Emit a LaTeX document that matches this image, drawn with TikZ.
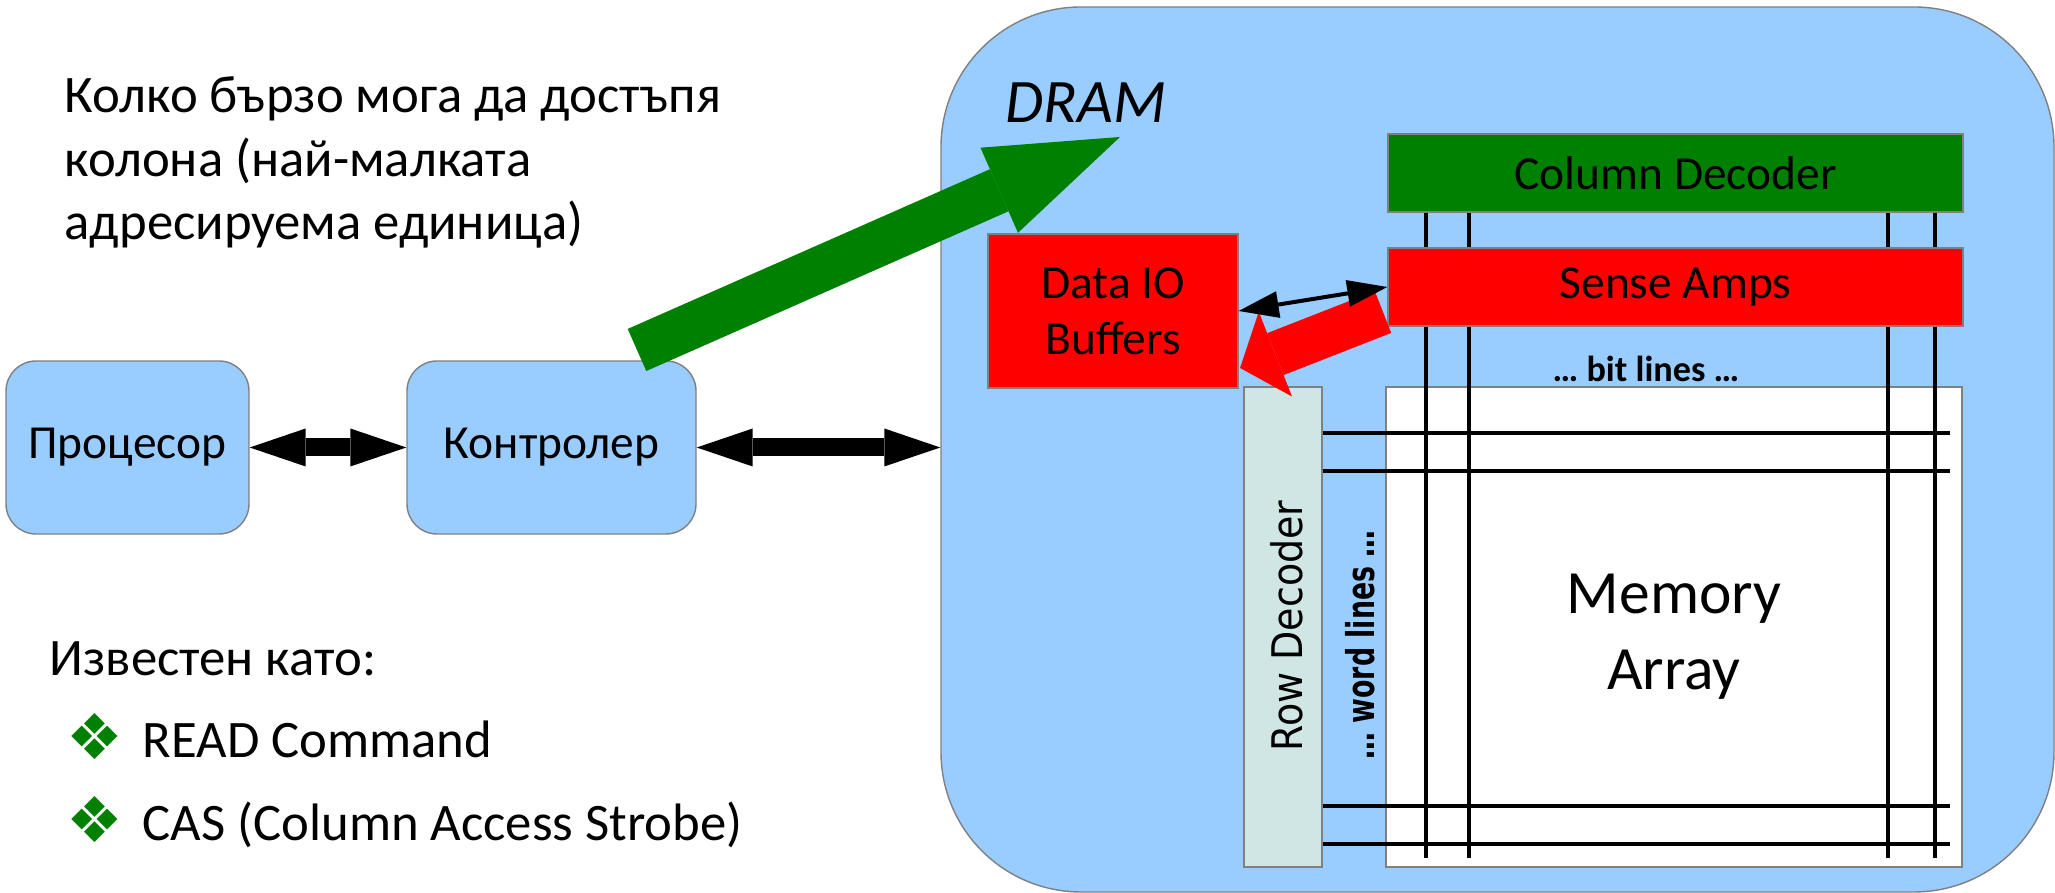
\documentclass[tikz,border=0pt]{standalone}
\usepackage{fontspec}
\setmainfont{Carlito}
\newfontfamily\symfont{DejaVu Sans}
\newfontfamily\rowfont[FakeStretch=0.9]{DejaVu Sans}
\newfontfamily\wordfont[FakeStretch=0.7]{DejaVu Sans}
\usepackage{tikz}
\usetikzlibrary{arrows.meta}
\definecolor{dramblue}{RGB}{153,204,255}
\definecolor{decgreen}{RGB}{0,128,0}
\definecolor{rowgray}{RGB}{208,230,228}
\definecolor{edgegray}{RGB}{128,128,128}

\begin{document}
\begin{tikzpicture}[
  every node/.style={inner sep=0pt},
  blockfont/.style={font=\fontsize{13.5}{15.9}\selectfont},
  bigfont/.style={font=\fontsize{15}{18}\selectfont},
  unit/.style={draw=edgegray, line width=0.4pt, fill=dramblue,
               rounded corners=0.3cm, minimum width=2.43cm,
               minimum height=1.73cm, blockfont},
  part/.style={draw=edgegray, line width=0.4pt, align=center, blockfont},
  bus/.style={line width=0.18cm,
              {Triangle[length=0.56cm, width=0.38cm, line width=0pt]}-{Triangle[length=0.56cm, width=0.38cm, line width=0pt]}},
  wire/.style={line width=1pt},
  bullet/.style={text=decgreen, font=\symfont\fontsize{18}{20}\selectfont},
]
\useasboundingbox (0,0) rectangle (20.55,8.93);

%% Question text
\node[bigfont, anchor=base west] (ask1) at (0.64, 7.80) {Колко бързо мога да достъпя};
\node[bigfont, anchor=base west] (ask2) at (0.64, 7.16) {колона (най-малката};
\node[bigfont, anchor=base west] (ask3) at (0.64, 6.53) {адресируема единица)};

%% Known as
\node[bigfont, anchor=base west] (known) at (0.49, 2.17) {Известен като:};
\node[bullet] (b1) at (0.95, 1.56) {❖};
\node[bigfont, anchor=base west] (item1) at (1.42, 1.35) {READ Command};
\node[bullet] (b2) at (0.95, 0.73) {❖};
\node[bigfont, anchor=base west] (item2) at (1.42, 0.52) {CAS (Column Access Strobe)};

%% Processor and controller
\node[unit] (cpu) at (1.275, 4.455) {Процесор};
\node[unit, minimum width=2.89cm] (ctrl) at (5.515, 4.455) {Контролер};
\draw[bus] (cpu.east) -- (ctrl.west);

%% DRAM chip
\node[draw=edgegray, line width=0.4pt, fill=dramblue, rounded corners=1.4cm,
      minimum width=11.13cm, minimum height=8.85cm] (dram) at (14.975, 4.435) {};
\draw[bus] (ctrl.east) -- (ctrl.east -| dram.west);
\node[anchor=base west, font=\itshape\fontsize{17.6}{21}\selectfont] (dramlbl) at (10.05, 7.70) {DRAM};

%% Command arrow
\coordinate (gtail) at (6.37, 5.43);
\coordinate (gtip) at (11.20, 7.56);
\draw[decgreen, line width=0.46cm,
      -{Triangle[length=1.32cm, width=0.93cm, line width=0pt]}] (gtail) -- (gtip);

%% Array and decoders
\node[part, fill=white, minimum width=5.76cm, minimum height=4.80cm] (mem) at (16.74, 2.66) {};
\node[font=\fontsize{17.5}{21.5}\selectfont, align=center] (memtxt) at (16.74, 2.56) {Memory\\Array};
\node[part, fill=rowgray, minimum width=0.78cm, minimum height=4.80cm] (rowdec) at (12.83, 2.66) {};
\node[rotate=90, font=\rowfont\fontsize{12}{14}\selectfont] (rowtxt) at (12.87, 2.67) {Row Decoder};
\node[rotate=90, font=\wordfont\bfseries\fontsize{10.9}{13}\selectfont] (wordlbl) at (13.60, 2.48) {… word lines …};
\node[part, fill=decgreen, minimum width=5.75cm, minimum height=0.78cm] (coldec) at (16.755, 7.20) {Column Decoder};

%% Bit lines and word lines
\foreach \x in {14.26, 14.69, 18.88, 19.35} {
  \draw[wire] (\x,0 |- coldec.south) -- (\x, 0.35);
}
\foreach \y in {4.60, 4.22, 0.87, 0.49} {
  \draw[wire] (rowdec.east |- 0,\y) -- (19.50, \y);
}
\node[font=\bfseries\fontsize{10.3}{12}\selectfont] (bitlbl) at (16.46, 5.245) {… bit lines …};

\node[part, fill=red, minimum width=5.75cm, minimum height=0.78cm] (sense) at (16.755, 6.06) {Sense Amps};
\node[part, fill=red, minimum width=2.50cm, minimum height=1.54cm] (dataio) at (11.13, 5.82) {Data IO\\Buffers};

%% Data path
\coordinate (rtail) at (13.83, 5.81);
\coordinate (rtip) at (12.40, 5.25);
\draw[red, line width=0.45cm,
      -{Triangle[length=0.38cm, width=0.91cm, line width=0pt]}] (rtail) -- (rtip);
\draw[line width=0.04cm,
      {Triangle[length=0.40cm, width=0.27cm, line width=0pt]}-{Triangle[length=0.40cm, width=0.27cm, line width=0pt]}]
  (dataio.east) -- (sense.west);

\end{tikzpicture}
\end{document}
